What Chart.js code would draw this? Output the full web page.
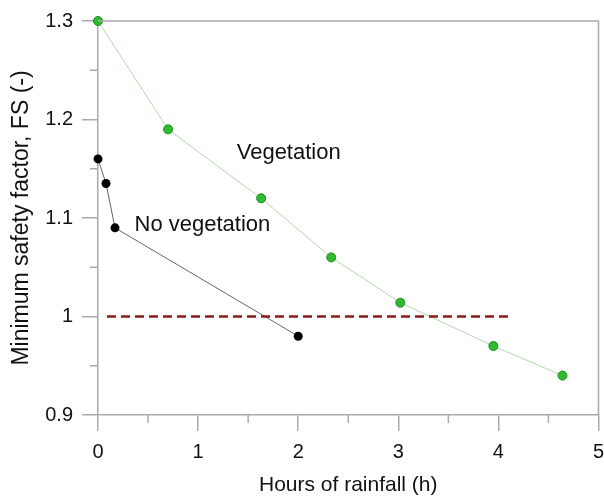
<!DOCTYPE html>
<html>
<head>
<meta charset="utf-8">
<script src="https://cdn.jsdelivr.net/npm/chart.js@4/dist/chart.umd.min.js"></script>
<style>
html, body { margin: 0; padding: 0; background: #fff; }
#wrap { width: 604px; height: 497px; }
</style>
</head>
<body>
<div id="wrap"><canvas id="fsChart" width="604" height="497"></canvas></div>
<script>
// values
var vegHours = [0, 0.70, 1.63, 2.33, 3.02, 3.95, 4.64];
var vegFS = [1.30, 1.19, 1.12, 1.06, 1.014, 0.97, 0.94];
var noVegHours = [0, 0.08, 0.17, 2.0];
var noVegFS = [1.16, 1.135, 1.09, 0.98];
var limitHours = [0.09, 4.1];
var limitFS = [1.0, 1.0];
var xMinorTicks = [0.5, 1.5, 2.5, 3.5, 4.5];
var yMinorTicks = [0.95, 1.05, 1.15, 1.25];
var labelTexts = ["Vegetation", "No vegetation"];
var labelHours = [1.905, 0.365];
var labelFS = [1.16, 1.087];

var FONT = "'Liberation Sans', Arial, sans-serif";
var AXIS_GRAY = '#aaaaaa';

function toPoints(xs, ys) {
    return xs.map(function (x, i) { return { x: x, y: ys[i] }; });
}

var framePlugin = {
    id: 'frameAndMinor',
    afterDatasetsDraw: function (chart) {
        var ctx = chart.ctx;
        var xs = chart.scales.x, ys = chart.scales.y;
        ctx.save();
        ctx.fillStyle = '#111';
        ctx.font = '22px ' + FONT;
        ctx.textBaseline = 'alphabetic';
        labelTexts.forEach(function (t, i) {
            ctx.textAlign = i === 0 ? 'center' : 'left';
            ctx.fillText(t, xs.getPixelForValue(labelHours[i]), ys.getPixelForValue(labelFS[i]));
        });
        ctx.restore();
    },
    afterDraw: function (chart) {
        var ctx = chart.ctx;
        var a = chart.chartArea;
        var xs = chart.scales.x, ys = chart.scales.y;
        ctx.save();
        ctx.strokeStyle = AXIS_GRAY;
        ctx.lineWidth = 1.5;
        ctx.beginPath();
        ctx.moveTo(a.left, a.top);
        ctx.lineTo(a.right, a.top);
        ctx.lineTo(a.right, a.bottom);
        xMinorTicks.forEach(function (v) {
            var px = xs.getPixelForValue(v);
            ctx.moveTo(px, a.bottom);
            ctx.lineTo(px, a.bottom + 8);
        });
        yMinorTicks.forEach(function (v) {
            var py = ys.getPixelForValue(v);
            ctx.moveTo(a.left - 8, py);
            ctx.lineTo(a.left, py);
        });
        ctx.stroke();
        ctx.restore();
    }
};

var chart = new Chart(document.getElementById('fsChart'), {
    type: 'line',
    data: {
        datasets: [{
            label: 'Limit',
            data: toPoints(limitHours, limitFS),
            borderColor: '#8b1a1a',
            borderWidth: 2.5,
            borderDash: [9, 5],
            pointRadius: 0,
            clip: false
        }, {
            label: 'Vegetation',
            data: toPoints(vegHours, vegFS),
            borderColor: '#b2d8ab',
            borderWidth: 1,
            pointRadius: 4.5,
            pointBackgroundColor: '#2fba2f',
            pointBorderColor: '#1c8a1c',
            pointBorderWidth: 1,
            clip: false
        }, {
            label: 'No vegetation',
            data: toPoints(noVegHours, noVegFS),
            borderColor: '#666666',
            borderWidth: 1,
            pointRadius: 4.5,
            pointBackgroundColor: '#000',
            pointBorderColor: '#000',
            pointBorderWidth: 0,
            clip: false
        }]
    },
    options: {
        responsive: false,
        animation: false,
        devicePixelRatio: 1,
        layout: { padding: { top: 21, right: 5, left: 0, bottom: 0 } },
        plugins: {
            legend: { display: false },
            tooltip: { enabled: false }
        },
        scales: {
            x: {
                type: 'linear',
                min: 0,
                max: 5,
                ticks: {
                    stepSize: 1,
                    padding: 9,
                    color: '#111',
                    font: { family: FONT, size: 20 },
                    maxRotation: 0
                },
                grid: { drawOnChartArea: false, tickLength: 16, color: AXIS_GRAY, lineWidth: 1.5 },
                border: { color: AXIS_GRAY, width: 1.5 },
                title: {
                    display: true,
                    text: 'Hours of rainfall (h)',
                    color: '#111',
                    font: { family: FONT, size: 21, lineHeight: 1 },
                    padding: { top: 0, bottom: 1 }
                },
                afterFit: function (scale) {
                    scale.height = 82;
                    scale.paddingLeft = 0;
                    scale.paddingRight = 0;
                }
            },
            y: {
                type: 'linear',
                min: 0.9,
                max: 1.3,
                ticks: {
                    stepSize: 0.1,
                    padding: 9,
                    color: '#111',
                    font: { family: FONT, size: 20 },
                    callback: function (v) { return String(+v.toFixed(2)); }
                },
                grid: { drawOnChartArea: false, tickLength: 16, color: AXIS_GRAY, lineWidth: 1.5 },
                border: { color: AXIS_GRAY, width: 1.5 },
                title: {
                    display: true,
                    text: 'Minimum safety factor, FS (-)',
                    color: '#111',
                    font: { family: FONT, size: 23, lineHeight: 1.2 },
                    padding: { top: 8, bottom: 0 }
                },
                afterFit: function (scale) {
                    scale.width = 98;
                }
            }
        }
    },
    plugins: [framePlugin]
});
</script>
</body>
</html>
